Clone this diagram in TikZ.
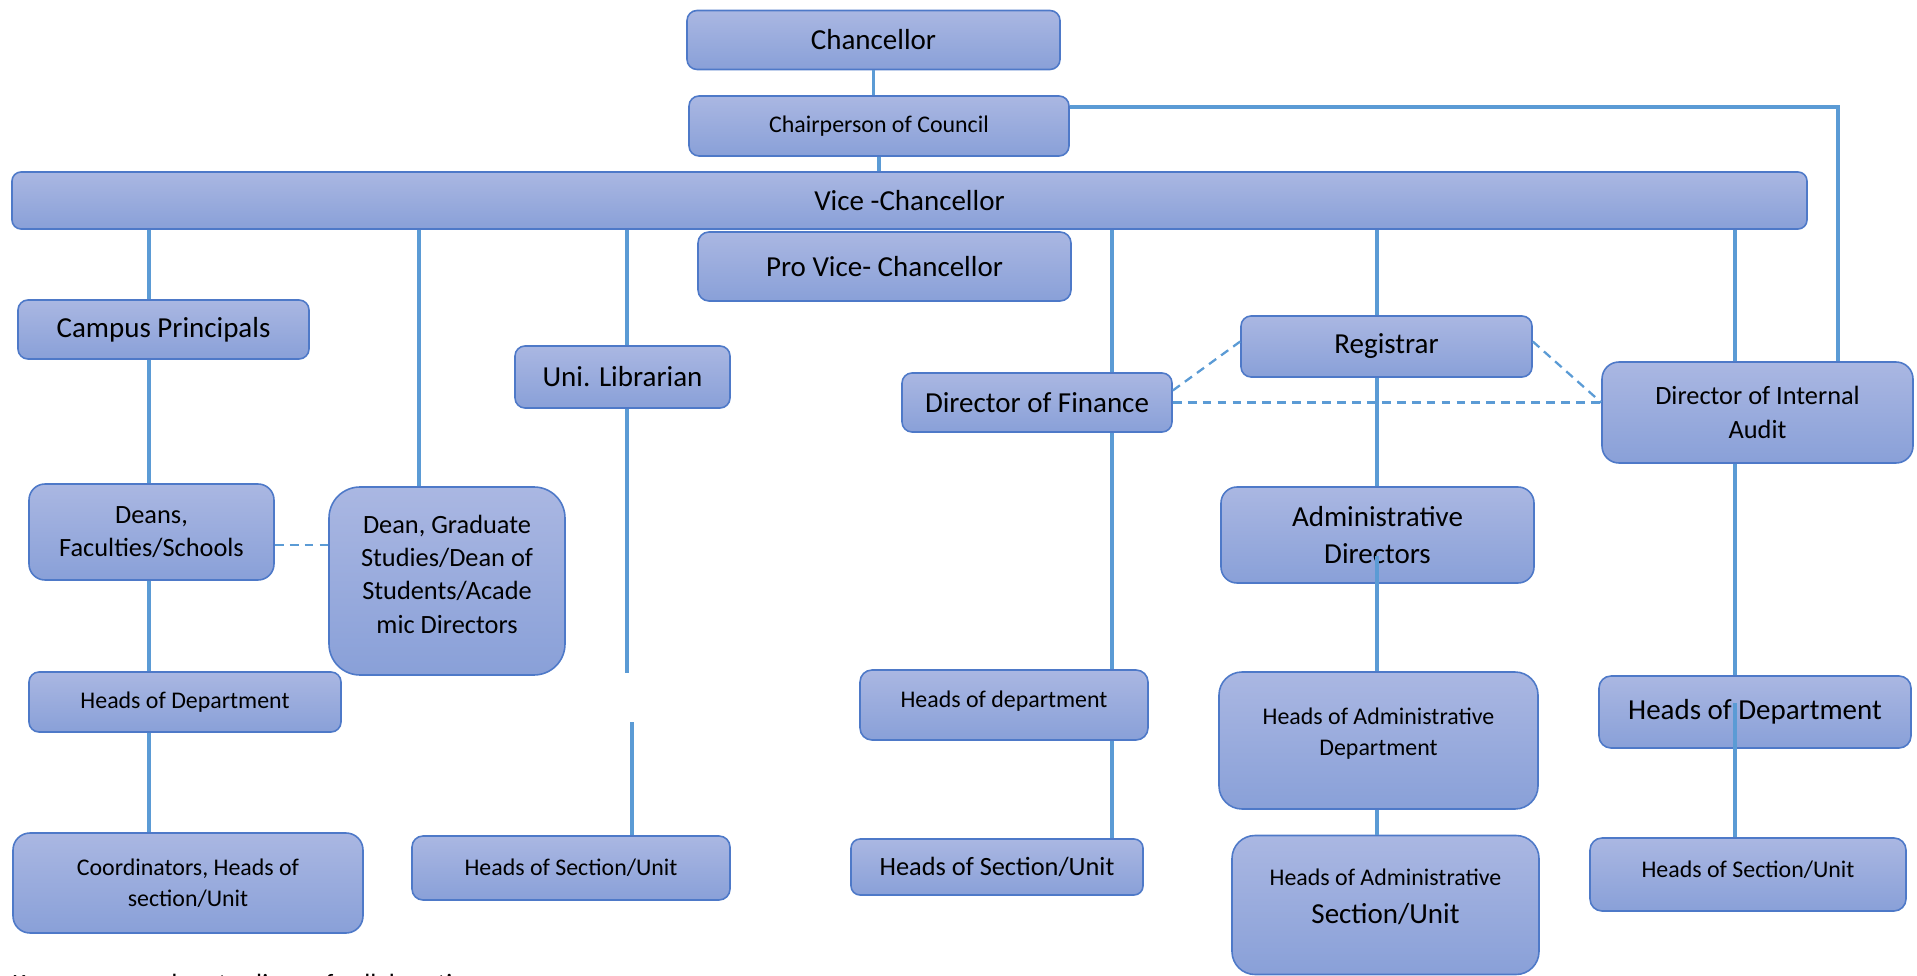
\documentclass[tikz,border=0pt]{standalone}
\usepackage{fontspec}
\setmainfont{Carlito}
\usepackage{tikz}

\definecolor{boxtop}{RGB}{170,183,226}
\definecolor{boxbot}{RGB}{137,160,216}
\definecolor{boxedge}{RGB}{78,121,200}
\definecolor{linkblue}{RGB}{91,155,213}

\newdimen\px \px=0.02cm
\newcommand\bigsz{\fontsize{16.5}{21.5}\selectfont}
\newcommand\midsz{\fontsize{15}{19}\selectfont}
\newcommand\smallsz{\fontsize{13.6}{17.8}\selectfont}

\begin{document}
\begin{tikzpicture}[x=0.02cm,y=-0.02cm,
	office/.style={draw=boxedge,line width=0.9pt,top color=boxtop,bottom color=boxbot,
		rounded corners=#1,align=center,inner sep=0pt,text=black},
	office/.default=10\px,
	link/.style={draw=linkblue,line width=2.1pt},
	collab/.style={draw=linkblue,line width=1.3pt,dash pattern=on 5pt off 3.5pt}]
	\useasboundingbox (0,0) rectangle (1917,976);

	\node[office,font=\bigsz,minimum width=373\px,minimum height=59\px] (chan) at (873.5,40) {Chancellor};
	\node[office,font=\smallsz,minimum width=380\px,minimum height=60\px] (chair) at (879,126) {Chairperson of Council};
	\node[office=9\px,font=\bigsz,minimum width=1795\px,minimum height=57\px] (vc) at (909.5,200.5) {Vice -Chancellor};
	\node[office=11\px,font=\bigsz,minimum width=373\px,minimum height=69\px] (pvc) at (884.5,266.5) {Pro Vice- Chancellor};
	\node[office,font=\bigsz,minimum width=291\px,minimum height=59\px] (cp) at (163.5,329.5) {Campus Principals};
	\node[office,font=\bigsz,minimum width=215\px,minimum height=62\px] (lib) at (622.5,377) {Uni. Librarian};
	\node[office,font=\bigsz,minimum width=291\px,minimum height=61\px] (reg) at (1386.5,346.5) {Registrar};
	\node[office,font=\bigsz,minimum width=270\px,minimum height=59\px] (fin) at (1037,402.5) {Director of Finance};
	\node[office=17\px,font=\midsz,minimum width=311\px,minimum height=101\px] (audit) at (1757.5,412.5) {Director of Internal\\Audit};
	\node[office=16\px,font=\midsz,minimum width=245\px,minimum height=96\px] (deans) at (151.5,532) {Deans,\\Faculties/Schools};
	\node[office=31\px,font=\midsz,minimum width=236\px,minimum height=188\px] (grad) at (447,581)
		{Dean, Graduate\\Studies/Dean of\\Students/Acade\\mic Directors\\[-11pt]\mbox{}};
	\node[office=16\px,font=\bigsz,minimum width=313\px,minimum height=96\px] (adm) at (1377.5,535) {Administrative\\Directors};
	\node[office,font=\smallsz,minimum width=312\px,minimum height=60\px] (hodL) at (185,702) {Heads of Department};
	\node[office=12\px,font=\smallsz,minimum width=288\px,minimum height=70\px] (hodF) at (1004,705) {Heads of department\\[-11pt]\mbox{}};
	\node[office=23\px,font=\smallsz,minimum width=319\px,minimum height=137\px] (hadD) at (1378.5,740.5) {Heads of Administrative\\Department\\[-7.8pt]\mbox{}};
	\node[office=12\px,font=\bigsz,minimum width=312\px,minimum height=72\px] (hodR) at (1755,712) {Heads of Department};
	\node[office=17\px,font=\smallsz,minimum width=350\px,minimum height=100\px] (coord) at (188,883) {Coordinators, Heads of\\section/Unit};
	\node[office=11\px,font=\smallsz,minimum width=318\px,minimum height=64\px] (hsuL) at (571,868) {Heads of Section/Unit};
	\node[office=9\px,font=\midsz,minimum width=292\px,minimum height=56\px] (hsuF) at (997,867) {Heads of Section/Unit};
	\node[office=23\px,font=\bigsz,minimum width=307\px,minimum height=139\px] (hadS) at (1385.5,905)
		{{\smallsz Heads of Administrative}\\Section/Unit\\[-11.5pt]\mbox{}};
	\node[office=12\px,font=\smallsz,minimum width=316\px,minimum height=73\px] (hsuR) at (1748,874.5) {Heads of Section/Unit\\[-12pt]\mbox{}};
	\node[anchor=base west,inner sep=0pt,font=\midsz] (key) at (12,992) {Key: - - - - - - - denotes lines of collaboration};

	\coordinate (cpX) at (149,0);
	\coordinate (gradX) at (419,0);
	\coordinate (libX) at (627,0);
	\coordinate (libLow) at (632,722);
	\coordinate (libGap) at (627,673);
	\coordinate (finX) at (1112,0);
	\coordinate (regX) at (1377,0);
	\coordinate (admIn) at (1377,556);
	\coordinate (audX) at (1735,0);
	\coordinate (hodRIn) at (1735,703);
	\coordinate (chX) at (1838,0);
	\coordinate (dashA) at (0,545);

	\draw[link] (chan.south) -- (chair.north -| chan.south);
	\draw[link] (chair.south) -- (vc.north -| chair.south);
	\draw[link] ([yshift=19\px]chair.east) -| (chX |- audit.north);
	\draw[link] (vc.south -| cpX) -- (cp.north -| cpX);
	\draw[link] (cp.south -| cpX) -- (deans.north -| cpX);
	\draw[link] (deans.south -| cpX) -- (hodL.north -| cpX);
	\draw[link] (hodL.south -| cpX) -- (coord.north -| cpX);
	\draw[link] (vc.south -| gradX) -- (grad.north -| gradX);
	\draw[link] (vc.south -| libX) -- (lib.north -| libX);
	\draw[link] (lib.south -| libX) -- (libGap);
	\draw[link] (libLow) -- (hsuL.north -| libLow);
	\draw[link] (vc.south -| finX) -- (fin.north -| finX);
	\draw[link] (fin.south -| finX) -- (hodF.north -| finX);
	\draw[link] (hodF.south -| finX) -- (hsuF.north -| finX);
	\draw[link] (vc.south -| regX) -- (reg.north -| regX);
	\draw[link] (reg.south -| regX) -- (adm.north -| regX);
	\draw[link] (admIn) -- (hadD.north -| regX);
	\draw[link] (hadD.south -| regX) -- (hadS.north -| regX);
	\draw[link] (vc.south -| audX) -- (audit.north -| audX);
	\draw[link] (audit.south -| audX) -- (hodR.north -| audX);
	\draw[link] (hodRIn) -- (hsuR.north -| audX);

	\draw[collab] (deans.east |- dashA) -- (grad.west |- dashA);
	\draw[collab] (fin.east) -- (audit.west |- fin.east);
	\draw[collab] ([yshift=12\px]fin.east) -- ([yshift=5\px]reg.west);
	\draw[collab] ([yshift=5\px]reg.east) -- (audit.west |- fin.east);
\end{tikzpicture}
\end{document}
